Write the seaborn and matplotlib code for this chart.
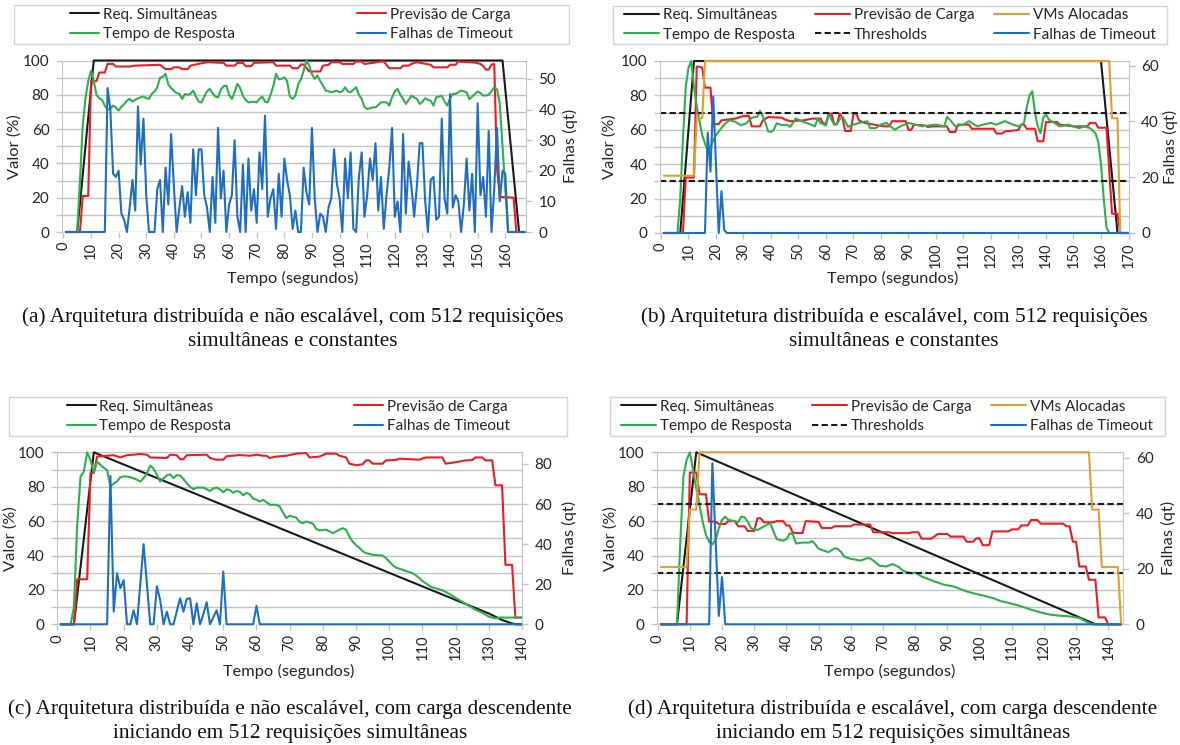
import matplotlib
matplotlib.use("Agg")
import matplotlib.pyplot as plt
from matplotlib.lines import Line2D
from matplotlib.patches import Rectangle
import seaborn as sns

sns.set_style("white")
plt.rcParams['font.family'] = ['Lato', 'DejaVu Sans']

# ---------------- data ----------------
# (a) non scalable, constant load
a_req_t = [1, 5, 11, 159, 165, 167]
a_req = [0, 0, 100, 100, 0, 0]

a_prev_t = [1, 6, 7, 9, 10, 12, 13, 15, 16, 18, 19, 24, 26, 35, 37, 39, 40, 42, 43, 45,
            46, 48, 52, 58, 59, 62, 63, 65, 66, 68, 69, 76, 77, 82, 83, 85, 86, 87, 89, 93,
            94, 96, 97, 100, 101, 105, 106, 108, 109, 112, 115, 116, 117, 118, 122, 123, 125, 126, 128, 133,
            134, 139, 140, 142, 143, 146, 149, 151, 152, 153, 154, 155, 156, 157, 158, 163, 164, 167]
a_prev = [0, 0, 21, 21, 88, 88, 93, 93, 98, 98, 96.5, 96.5, 97, 97.5, 95, 95, 96, 96, 95, 95,
          97, 97.7, 99, 98.6, 97, 97, 98.6, 98.6, 96.7, 96.7, 98.6, 99, 97, 97, 95.5, 95.5, 97.7, 97.7, 93.6, 93.6,
          97, 97.5, 99, 99, 98, 98, 99.4, 99.4, 98, 98.6, 99.4, 99.4, 97.5, 95.5, 95.5, 97, 97, 98, 99, 97.5,
          96, 96, 97.5, 97.5, 99.4, 99, 98.8, 98, 96.7, 94.7, 94.7, 97.6, 98, 37, 20.5, 20, 0, 0]

a_tempo_t = [1, 5, 6, 7, 8, 9, 10, 11, 12, 13, 14, 15, 16, 17, 18, 19, 20, 21, 22, 23,
             24, 25, 26, 27, 29, 30, 31, 32, 33, 34, 35, 36, 37, 38, 39, 40, 41, 42, 43, 44,
             45, 46, 47, 48, 49, 50, 51, 52, 53, 54, 55, 56, 57, 58, 59, 60, 61, 62, 63, 64,
             65, 66, 67, 69, 70, 71, 72, 73, 74, 75, 76, 77, 78, 79, 80, 81, 82, 83, 84, 85,
             86, 87, 88, 89, 90, 91, 92, 93, 94, 95, 96, 97, 98, 99, 100, 101, 102, 103, 104, 105,
             106, 107, 108, 109, 110, 111, 112, 113, 114, 115, 117, 118, 119, 120, 121, 122, 123, 124, 125, 126,
             127, 128, 129, 130, 131, 132, 133, 134, 135, 136, 137, 138, 139, 140, 141, 142, 143, 144, 145, 146,
             147, 148, 149, 150, 151, 152, 153, 154, 155, 156, 157, 158, 159, 160, 161, 167]
a_tempo = [0, 0, 30, 62, 78, 88, 94, 88, 80, 78, 77, 73.7, 71.3, 72, 73.7, 72.7, 70.8, 73, 74.5, 76.6,
           77.6, 76, 77, 78, 79, 78, 77.6, 80.5, 82, 84.4, 90, 90.5, 92.2, 86, 84, 82.4, 81, 80.5, 77.6, 80.5,
           80, 80.5, 82.4, 79, 76, 75.5, 79, 82, 83.4, 81, 79, 78.5, 83, 85, 85.4, 80, 77.6, 81.5, 86.4, 84,
           79.5, 77, 75.6, 76, 75.6, 77.6, 79, 76, 75.6, 80, 85, 92.2, 89, 89.3, 90.2, 88, 79, 77.6, 79.5, 86,
           89, 94, 100, 97, 92, 89.3, 91.2, 88, 85.4, 82.4, 82, 81.5, 82, 82.4, 81.5, 82, 84.4, 82, 81.5, 83,
           84.4, 80, 77.6, 73, 71.7, 72.2, 72.7, 72.7, 74, 75.6, 75.6, 73.7, 78.5, 82, 83.4, 80, 77.6, 74.7, 77, 79.5,
           78.5, 77.6, 74.7, 76, 78, 77, 76.6, 73.7, 78.5, 79, 79.5, 76, 73.7, 78, 80.5, 80.5, 81.5, 82.4, 82, 81.5,
           77.4, 79, 80.5, 81.9, 81, 79.6, 79.6, 80, 82, 84.4, 83.2, 75, 50, 25, 0, 0]

a_falhas_t = [1, 15] + list(range(16, 162)) + [167]
a_falhas = [0, 0,
            47, 40, 19, 18, 20, 6, 4, 0, 8, 17, 7, 41, 22, 37, 12, 0, 0, 0,
            14, 17, 0, 21, 9, 32, 15, 0, 8, 15, 5, 13, 3, 27, 12, 27, 27, 12, 8, 0,
            18, 3, 34, 11, 20, 0, 9, 12, 30, 5, 0, 22, 0, 24, 7, 14, 3, 26, 14, 38,
            5, 11, 14, 1, 19, 5, 24, 17, 12, 1, 7, 0, 0, 21, 13, 9, 34, 11, 0, 6,
            5, 0, 8, 11, 27, 16, 11, 0, 24, 11, 26, 1, 0, 18, 26, 5, 12, 24, 17, 29,
            7, 18, 1, 12, 21, 34, 5, 10, 0, 32, 6, 23, 15, 5, 15, 29, 29, 10, 0, 17,
            18, 4, 5, 37, 11, 6, 45, 8, 12, 10, 0, 9, 24, 7, 19, 0, 42, 12, 18, 5,
            33, 0, 14, 34, 10, 20, 19, 0,
            0]

# (b) scalable, constant load
b_req_t = [1, 7, 12, 160, 166, 170]
b_req = [0, 0, 100, 100, 0, 0]

b_vms_t = [1, 12, 13, 15, 16, 163, 164, 166, 167, 170]
b_vms = [33.3, 33.3, 66.7, 66.7, 100, 100, 66.7, 66.7, 0, 0]

b_prev_t = [1, 8, 9, 12, 13, 14, 15, 16, 18, 19, 21, 22, 27, 30, 32, 33, 36, 37, 39, 44,
            45, 47, 52, 55, 58, 59, 60, 61, 62, 63, 64, 65, 66, 67, 69, 70, 71, 72, 74, 81,
            83, 84, 89, 90, 91, 92, 96, 97, 99, 104, 105, 107, 108, 112, 113, 121, 122, 124, 125, 129,
            130, 131, 132, 133, 136, 137, 139, 140, 144, 145, 150, 155, 156, 158, 159, 162, 164, 166, 167, 170]
b_prev = [0, 0, 32.2, 32.2, 96.7, 96.7, 96, 84.5, 84.5, 63.3, 63.3, 65.5, 66.5, 68, 68, 62, 62, 65.5, 67.4, 67,
          66, 65, 65.5, 66.5, 66.5, 63.6, 63.6, 69.4, 69.4, 63.2, 63.2, 69.4, 67, 59.3, 59.3, 69.4, 69.4, 65.5, 64, 62,
          62, 65, 65, 60, 60, 63, 62.5, 61.6, 62, 62, 58.7, 58.7, 63, 63, 60.6, 60.6, 57.8, 57.8, 59, 59.7,
          60, 63, 63, 60.6, 60.6, 53.3, 53.3, 64.5, 64.5, 63, 62, 62, 64, 64, 61.2, 61.2, 11.2, 11.2, 0, 0]

b_tempo_t = [1, 6, 7, 8, 9, 10, 11, 12, 13, 14, 15, 16, 17, 18, 19, 20, 21, 22, 23, 24,
             25, 27, 29, 31, 33, 35, 36, 37, 38, 39, 40, 41, 42, 44, 46, 47, 48, 49, 51, 53,
             56, 57, 58, 60, 61, 62, 63, 64, 65, 66, 67, 68, 70, 72, 75, 76, 78, 80, 82, 85,
             87, 90, 95, 100, 103, 104, 105, 107, 110, 112, 115, 117, 120, 122, 125, 128, 130, 132, 133, 134,
             135, 136, 137, 138, 139, 140, 141, 143, 145, 148, 150, 152, 154, 156, 158, 159, 160, 161, 162, 163,
             170]
b_tempo = [0, 0, 20, 55, 85, 96, 100, 85, 74, 65, 57, 52, 48, 50, 54, 57, 59, 61, 63, 64.5,
           65.6, 64.7, 62.7, 63.7, 67, 67.6, 70.9, 68, 64, 59, 58.8, 59.8, 63.7, 62.7, 62.7, 61.7, 64, 66.6, 65, 64,
           62, 66.6, 64, 62.5, 69.5, 66, 63, 63.5, 66, 67.6, 65, 61.7, 63, 64, 65, 61, 61, 63, 64, 60,
           62, 64, 62, 63, 62, 67.4, 66, 62, 63, 65, 62, 63, 64, 63, 65, 63, 62, 64, 73, 80,
           82.4, 70, 62, 58, 67, 69, 66, 64, 62, 63, 62, 61, 62, 61, 58, 53, 40, 20, 3, 0,
           0]

b_falhas_t = [1, 16, 17, 18, 19, 21, 22, 23, 24, 170]
b_falhas = [0, 0, 36, 22, 49, 0, 15, 1, 0, 0]

b_thresholds = [30, 70]

# (c) non scalable, descending load
c_req_t = [1, 5, 11, 130, 134, 137, 138, 140]
c_req = [0, 0, 100, 6.3, 2.5, 0.5, 0, 0]

c_prev_t = [1, 5, 6, 9, 10, 11, 12, 13, 17, 19, 21, 25, 27, 28, 33, 34, 36, 37, 38, 39,
            45, 46, 48, 50, 51, 55, 58, 60, 62, 63, 64, 66, 69, 72, 75, 76, 79, 81, 84, 85,
            87, 88, 90, 92, 93, 94, 95, 98, 99, 102, 103, 109, 111, 116, 117, 120, 123, 125, 126, 128,
            129, 131, 132, 134, 135, 137, 138, 140]
c_prev = [0, 0, 26.2, 26.2, 88, 88, 97.5, 97.7, 98.3, 97, 98.3, 99, 98.6, 97, 96.7, 98.6, 98.3, 96, 96, 98.3,
          98.6, 96.7, 95.7, 95.7, 97.7, 98.4, 98, 98.6, 98, 98, 96.7, 97.5, 98, 99.2, 99.6, 97, 97.5, 99.2, 99.2, 98,
          97, 93.4, 92.5, 93, 95.3, 95.3, 93.4, 93.4, 95.3, 95.5, 96.3, 95.7, 97, 97, 93.4, 94.2, 95.3, 95.5, 97, 97,
          95.3, 95.3, 80.8, 80.8, 34.6, 34.6, 3.9, 3.9]

c_tempo_t = [1, 4, 5, 6, 7, 8, 9, 10, 11, 12, 13, 14, 15, 16, 17, 18, 19, 20, 21, 22,
             23, 24, 25, 26, 27, 28, 29, 30, 31, 32, 33, 34, 35, 36, 37, 38, 39, 40, 41, 42,
             43, 44, 45, 46, 47, 48, 49, 50, 51, 52, 53, 54, 55, 56, 57, 58, 59, 60, 61, 62,
             63, 64, 66, 67, 68, 69, 70, 72, 73, 74, 75, 77, 78, 79, 81, 82, 83, 84, 85, 86,
             87, 88, 89, 90, 91, 92, 93, 95, 98, 99, 100, 101, 102, 104, 107, 108, 109, 110, 112, 113,
             115, 116, 118, 121, 124, 126, 128, 130, 132, 133, 140]
c_tempo = [0, 0, 10, 58, 85.9, 88.8, 100, 95.5, 88, 94.6, 92.6, 91, 89.7, 80, 82, 83, 85.5, 86, 85.9, 85.5,
           84.9, 84, 83, 85, 87.8, 92.2, 90.5, 87, 83, 84.9, 86.5, 87.2, 85, 86.8, 86.4, 84.5, 82, 80, 78.5, 79.5,
           79.5, 79.5, 78.5, 77.5, 79, 79.5, 78.5, 76.7, 78.5, 78, 76.5, 77.5, 77, 75, 76.5, 75.5, 73, 72.5, 71.3, 72.4,
           71, 69.5, 69.5, 68.5, 65, 61.7, 63.1, 62, 59.5, 58.8, 59.8, 58.5, 55.5, 54.6, 55, 54, 53, 54, 55, 55.9,
           55, 51, 48, 46, 44.5, 42.5, 41.4, 40.4, 40, 38.5, 36.5, 34.5, 33, 31.7, 29.7, 28.5, 27, 25.2, 22.5, 21.5,
           20.4, 19.8, 17.8, 14.2, 10.8, 8.5, 6.7, 4.5, 3.5, 3.9, 3.9]

c_falhas_t = [1, 15, 16, 17, 18, 19, 20, 21, 22, 23, 24, 26, 28, 29, 30, 31, 32, 33, 34, 35,
              37, 38, 39, 40, 41, 42, 43, 44, 45, 46, 48, 49, 50, 51, 59, 60, 61, 140]
c_falhas = [0, 0, 74, 6.3, 25.5, 18, 22, 0, 0, 7, 0, 40, 0, 0, 19, 12, 0, 6.3, 0, 0,
            13, 6.3, 12.6, 13, 0, 10.5, 0, 5, 11, 0, 7, 0, 26.3, 0, 0, 9.2, 0, 0]

# (d) scalable, descending load
d_req_t = [1, 6, 12, 136, 144]
d_req = [0, 0, 100, 0, 0]

d_vms_t = [1, 9, 10, 12, 13, 134, 135, 137, 138, 143, 144]
d_vms = [33.3, 33.3, 66.7, 66.7, 100, 100, 66.7, 66.7, 33.3, 33.3, 0]

d_prev_t = [1, 9, 10, 12, 13, 15, 16, 18, 19, 21, 22, 24, 25, 27, 28, 30, 31, 32, 33, 36,
            37, 39, 40, 41, 42, 45, 46, 50, 51, 54, 55, 60, 61, 66, 67, 72, 73, 78, 79, 81,
            82, 85, 86, 87, 90, 91, 95, 96, 98, 99, 100, 101, 103, 104, 109, 110, 112, 113, 115, 116,
            118, 119, 126, 127, 128, 129, 130, 131, 133, 134, 136, 137, 139, 140, 144]
d_prev = [0, 0, 88.2, 88.2, 75.6, 75.6, 59.7, 59.7, 58.3, 58.3, 60, 60, 57, 57, 54.3, 54.3, 61.6, 61.6, 59.3, 59.3,
          60, 60, 57.5, 57.4, 53.2, 53, 60, 59.5, 56, 56, 57, 57, 58, 58, 53.5, 53.5, 53, 53, 53.5, 53.5,
          49.8, 49.8, 51, 52.5, 52.5, 51, 51, 48, 48, 50, 50, 46, 46, 54, 54, 55.2, 55.2, 57.5, 57.5, 60.6,
          60.6, 58.5, 58.5, 57, 57, 48, 48, 33.6, 33.6, 25.9, 25.9, 4, 4, 0, 0]

d_tempo_t = [1, 6, 7, 8, 9, 10, 11, 12, 13, 14, 15, 16, 17, 18, 19, 20, 21, 22, 24, 25,
             26, 27, 28, 29, 31, 32, 34, 35, 36, 37, 39, 40, 41, 42, 43, 45, 47, 48, 49, 50,
             51, 52, 53, 54, 55, 56, 57, 58, 60, 61, 63, 65, 66, 67, 68, 69, 71, 73, 75, 76,
             77, 79, 80, 81, 82, 84, 86, 89, 92, 94, 96, 99, 101, 104, 107, 110, 113, 116, 119, 122,
             125, 128, 131, 133, 135, 144]
d_tempo = [0, 0, 46, 86, 95.5, 100, 89.7, 79, 69.4, 59.7, 52, 48, 46.5, 49, 55.8, 60.7, 62.6, 60.7, 60, 59.3,
           62.6, 62.2, 59.7, 55.8, 54.8, 55.8, 58, 58.7, 54, 49.5, 48.6, 49.4, 52.9, 52.3, 47, 47.5, 47.5, 48.4, 46.5, 44,
           43.2, 42.6, 41.9, 43, 44.2, 43.8, 42, 39.3, 38, 37.8, 37, 38.4, 38.4, 37, 35.5, 34, 33.6, 35, 33.2, 31.5,
           30.5, 29.7, 30.1, 29, 27.8, 26.4, 24.9, 23, 22, 20.5, 19.1, 17.6, 16.8, 15.3, 13.3, 12, 10.4, 8.5, 6.9, 5.6,
           5, 4.6, 3.7, 1.7, 0, 0]

d_falhas_t = [1, 16, 17, 19, 20, 21, 144]
d_falhas = [0, 0, 58, 3, 17, 0, 0]

d_thresholds = [30, 70]

captions = [
    ("(a) Arquitetura distribuída e não escalável, com 512 requisições", "simultâneas e constantes"),
    ("(b) Arquitetura distribuída e escalável, com 512 requisições", "simultâneas e constantes"),
    ("(c) Arquitetura distribuída e não escalável, com carga descendente", "iniciando em 512 requisições simultâneas"),
    ("(d) Arquitetura distribuída e escalável, com carga descendente", "iniciando em 512 requisições simultâneas"),
]

# ---------------- styling ----------------
W, H = 1180, 745
C_REQ = '#1a1a1a'
C_PREV = '#ec1c24'
C_TEMPO = '#2db04b'
C_FALHAS = '#1f6fc0'
C_VMS = '#dba232'
GRID = '#c4c4c4'
TXT = '#262626'
LW = 1.5
FS = 10.5

fig = plt.figure(figsize=(W / 100, H / 100), dpi=100)


def fbox(x0, x1, y0, y1):
    return [x0 / W, 1 - y1 / H, (x1 - x0) / W, (y1 - y0) / H]


def line(ax, t, v, color, ls='-'):
    sns.lineplot(x=t, y=v, ax=ax, color=color, linewidth=LW, linestyle=ls,
                 estimator=None, sort=False, legend=False, clip_on=False)


def setup(box, xlim, xmax, rmax, rticks, lab):
    x0, x1, y0, y1 = box
    ax = fig.add_axes(fbox(*box))
    ax2 = ax.twinx()
    ax.set_xlim(*xlim)
    ax.set_ylim(0, 100)
    ax.set_yticks(range(0, 101, 20))
    ax.set_yticks(range(10, 100, 20), minor=True)
    ax.yaxis.grid(True, which='both', color=GRID, lw=1)
    ax.set_axisbelow(True)
    ax.set_xticks(range(0, xmax + 1, 10))
    ax.set_xticklabels([str(v) for v in range(0, xmax + 1, 10)], rotation=90)
    ax2.set_ylim(0, rmax)
    ax2.set_yticks(rticks)
    for a in (ax, ax2):
        for s in a.spines.values():
            s.set_visible(False)
    ax.spines['left'].set_visible(True)
    ax.spines['left'].set_color(GRID)
    ax2.spines['right'].set_visible(True)
    ax2.spines['right'].set_color(GRID)
    ax.tick_params(axis='y', which='both', length=4, width=1, color=GRID, pad=5,
                   labelsize=FS + 0.5, labelcolor=TXT)
    ax.tick_params(axis='x', length=4, width=1, color=GRID, pad=3, labelsize=FS,
                   labelcolor=TXT, bottom=True)
    ax2.tick_params(axis='y', length=4, width=1, color=GRID, pad=5, labelsize=FS + 0.5,
                    labelcolor=TXT)
    vx, fx, tx, ty = lab
    ax.set_ylabel('Valor (%)', fontsize=FS + 1.3, color=TXT)
    ax.yaxis.label.set_va('center')
    ax.yaxis.set_label_coords((vx - x0) / (x1 - x0), 0.5)
    ax2.set_ylabel('Falhas (qt)', fontsize=FS + 1.3, color=TXT, rotation=90)
    ax2.yaxis.label.set_va('center')
    ax2.yaxis.set_label_coords((fx - x0) / (x1 - x0), 0.5)
    ax.set_xlabel('Tempo (segundos)', fontsize=FS + 1.3, color=TXT)
    ax.xaxis.label.set_va('center')
    ax.xaxis.set_label_coords((tx - x0) / (x1 - x0), (y1 - ty) / (y1 - y0))
    return ax, ax2


def legend(handles, ncol, box, colsp, hlen):
    bx0, bx1, by0, by1 = box
    fig.patches.append(Rectangle((bx0 / W, 1 - by1 / H), (bx1 - bx0) / W, (by1 - by0) / H,
                                 transform=fig.transFigure, fill=False,
                                 edgecolor='#d4d4d4', lw=1))
    fig.legend(handles=handles, loc='center', ncol=ncol, frameon=False,
               bbox_to_anchor=((bx0 + bx1) / 2 / W, 1 - (by0 + by1) / 2 / H),
               fontsize=FS + 0.5, labelcolor=TXT, columnspacing=colsp,
               handlelength=hlen, handletextpad=0.25, labelspacing=0.36,
               borderpad=0)


def h(color, label, ls='-'):
    return Line2D([], [], color=color, lw=LW, ls=ls, label=label)


DASH = (0, (3, 1.6))

# (a)
ax, ax2 = setup((62, 526, 60.5, 232), (-0.5, 167.5), 160, 56, range(0, 51, 10),
                (15, 570, 293, 278))
line(ax, a_req_t, a_req, C_REQ)
line(ax, a_prev_t, a_prev, C_PREV)
line(ax, a_tempo_t, a_tempo, C_TEMPO)
line(ax2, a_falhas_t, a_falhas, C_FALHAS)
legend([h(C_REQ, 'Req. Simultâneas'), h(C_TEMPO, 'Tempo de Resposta'),
        h(C_PREV, 'Previsão de Carga'), h(C_FALHAS, 'Falhas de Timeout')],
       2, (14, 569, 5, 44), 8.0, 1.9)

# (b)
ax, ax2 = setup((659.6, 1128.5, 61, 233), (-0.5, 170), 170, 61.7, [0, 20, 40, 60],
                (609.5, 1170, 892.5, 278))
line(ax, b_req_t, b_req, C_REQ)
line(ax, b_prev_t, b_prev, C_PREV)
line(ax, b_tempo_t, b_tempo, C_TEMPO)
for thr in b_thresholds:
    ax.axhline(thr, color=C_REQ, lw=LW, ls=DASH)
line(ax, b_vms_t, b_vms, C_VMS)
line(ax2, b_falhas_t, b_falhas, C_FALHAS)
legend([h(C_REQ, 'Req. Simultâneas'), h(C_TEMPO, 'Tempo de Resposta'),
        h(C_PREV, 'Previsão de Carga'), h(C_REQ, 'Thresholds', DASH),
        h(C_VMS, 'VMs Alocadas'), h(C_FALHAS, 'Falhas de Timeout')],
       3, (613, 1167, 6, 44), 1.3, 2.3)

# (c)
ax, ax2 = setup((57.3, 522, 452.3, 624.3), (0, 140), 140, 85.8, range(0, 81, 20),
                (11, 569, 289, 671))
line(ax, c_req_t, c_req, C_REQ)
line(ax, c_prev_t, c_prev, C_PREV)
line(ax, c_tempo_t, c_tempo, C_TEMPO)
line(ax2, c_falhas_t, c_falhas, C_FALHAS)
legend([h(C_REQ, 'Req. Simultâneas'), h(C_TEMPO, 'Tempo de Resposta'),
        h(C_PREV, 'Previsão de Carga'), h(C_FALHAS, 'Falhas de Timeout')],
       2, (9, 567, 397, 436), 8.0, 1.9)

# (d)
ax, ax2 = setup((657, 1123.4, 452.3, 624.3), (-0.2, 144.7), 140, 61.9, [0, 20, 40, 60],
                (610.5, 1168.5, 889.7, 671))
line(ax, d_req_t, d_req, C_REQ)
line(ax, d_prev_t, d_prev, C_PREV)
line(ax, d_tempo_t, d_tempo, C_TEMPO)
for thr in d_thresholds:
    ax.axhline(thr, color=C_REQ, lw=LW, ls=DASH)
line(ax, d_vms_t, d_vms, C_VMS)
line(ax2, d_falhas_t, d_falhas, C_FALHAS)
legend([h(C_REQ, 'Req. Simultâneas'), h(C_TEMPO, 'Tempo de Resposta'),
        h(C_PREV, 'Previsão de Carga'), h(C_REQ, 'Thresholds', DASH),
        h(C_VMS, 'VMs Alocadas'), h(C_FALHAS, 'Falhas de Timeout')],
       3, (609.5, 1164.7, 397, 436), 1.3, 2.3)

# captions
cap_pos = [(293, 317), (894, 317), (290, 709), (893, 709)]
for (l1, l2), (cx, cy) in zip(captions, cap_pos):
    fig.text(cx / W, 1 - cy / H, l1, ha='center', va='center', fontsize=15.3,
             family=['Liberation Serif', 'DejaVu Serif'], color='#111111')
    fig.text(cx / W, 1 - (cy + 24.5) / H, l2, ha='center', va='center', fontsize=15.3,
             family=['Liberation Serif', 'DejaVu Serif'], color='#111111')

fig.savefig('out.png', dpi=100)
